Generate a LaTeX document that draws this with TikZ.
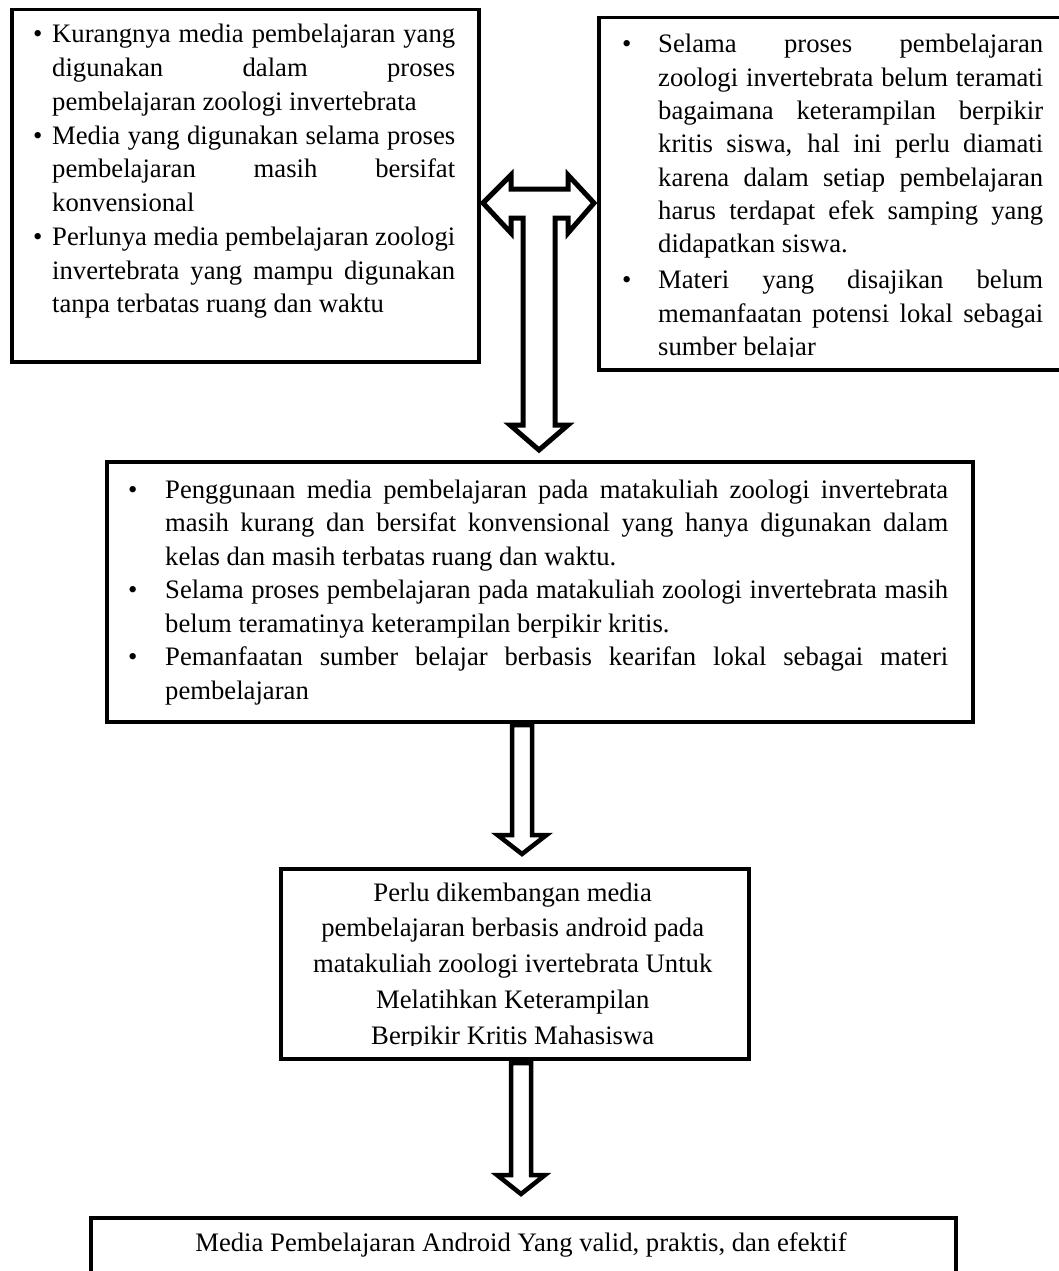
\documentclass[tikz,border=0pt]{standalone}
\usepackage{fontspec}
\setmainfont{Liberation Serif}
\newlength\bw
\newlength\tw
\newcommand\bulsym{\textbullet}
\newcommand\BJ[1]{\hbox{\hbox to\bw{\bulsym\hfil}\hbox to\tw{#1}}}
\newcommand\BL[1]{\hbox{\hbox to\bw{\bulsym\hfil}\hbox to\tw{#1\hfil}}}
\newcommand\NJ[1]{\hbox{\hbox to\bw{}\hbox to\tw{#1}}}
\newcommand\NL[1]{\hbox{\hbox to\bw{}\hbox to\tw{#1\hfil}}}
\newcommand\CL[1]{\hbox to 470pt{\hfil#1\hfil}}
\newcommand\blockdown[6]{\draw[barrow] (#1-#4,#2) -- (#1+#4,#2) -- (#1+#4,#3-#6) -- (#1+#5,#3-#6) -- (#1,#3) -- (#1-#5,#3-#6) -- (#1-#4,#3-#6) -- cycle;}
\hbadness=10000
\begin{document}
\begin{tikzpicture}[x=1pt,y=-1pt,
  box/.style={draw, line width=3.5pt, inner sep=0pt, anchor=north west},
  barrow/.style={draw, line width=4.5pt, line join=miter, miter limit=10},
  txt/.style={inner sep=0pt, anchor=base west, font=\fontsize{26.67}{33.5}\selectfont}]
\useasboundingbox (0,0) rectangle (1059,1271);
\begin{scope}
\clip (0,0) rectangle (1059,1271);
% boxes
\node[box, minimum width=467pt, minimum height=352pt] (b1) at (10,8) {};
\node[box, minimum width=480pt, minimum height=352pt] (b2) at (597,16) {};
\node[box, minimum width=866pt, minimum height=260pt] (b3) at (105,460) {};
\node[box, minimum width=468pt, minimum height=190pt] (b4) at (279,867) {};
\node[box, minimum width=865pt, minimum height=100pt] (b5) at (89,1216) {};
% left box text
\node[txt] (t1) at (33,43) {\setlength\bw{19pt}\setlength\tw{403pt}\vtop{\baselineskip=33.75pt
\BJ{Kurangnya media pembelajaran yang}
\NJ{digunakan dalam proses}
\NL{pembelajaran zoologi invertebrata}
\BJ{Media yang digunakan selama proses}
\NJ{pembelajaran masih bersifat}
\NL{konvensional}
\BJ{Perlunya media pembelajaran zoologi}
\NJ{invertebrata yang mampu digunakan}
\NL{tanpa terbatas ruang dan waktu}}};
% right box text
\begin{scope}
\clip (597,0) rectangle (1059,356);
\node[txt] (t2) at (622,53) {\setlength\bw{36pt}\setlength\tw{385pt}\vtop{\baselineskip=33.33pt
\BJ{Selama proses pembelajaran}
\NJ{zoologi invertebrata belum teramati}
\NJ{bagaimana keterampilan berpikir}
\NJ{kritis siswa, hal ini perlu diamati}
\NJ{karena dalam setiap pembelajaran}
\NJ{harus terdapat efek samping yang}
\NL{didapatkan siswa.}
\vskip2.67pt
\BJ{Materi yang disajikan belum}
\NJ{memanfaatan potensi lokal sebagai}
\NL{sumber belajar}}};
\end{scope}
% middle box text
\node[txt] (t3) at (128,498) {\setlength\bw{37pt}\setlength\tw{783pt}\vtop{\baselineskip=33.5pt
\BJ{Penggunaan media pembelajaran pada matakuliah zoologi invertebrata}
\NJ{masih kurang dan bersifat konvensional yang hanya digunakan dalam}
\NL{kelas dan masih terbatas ruang dan waktu.}
\BJ{Selama proses pembelajaran pada matakuliah zoologi invertebrata masih}
\NL{belum teramatinya keterampilan berpikir kritis.}
\BJ{Pemanfaatan sumber belajar berbasis kearifan lokal sebagai materi}
\NL{pembelajaran}}};
% box 3 text
\begin{scope}
\clip (279,860) rectangle (747,1045);
\node[txt] (t4) at (277.5,901) {\vtop{\baselineskip=35.75pt
\CL{Perlu dikembangan media}
\CL{pembelajaran berbasis android pada}
\CL{matakuliah zoologi ivertebrata Untuk}
\CL{Melatihkan Keterampilan}
\CL{Berpikir Kritis Mahasiswa}}};
\end{scope}
% box 4 text
\node[inner sep=0pt, anchor=base, font=\fontsize{26.67}{33.5}\selectfont] (t5) at (521,1251) {Media Pembelajaran Android Yang valid, praktis, dan efektif};
% T-shaped arrow
\draw[barrow, line width=5pt] (483,203) -- (511,175) -- (511,189) -- (568,189) -- (568,175) -- (594,203) -- (568,233) -- (568,218) -- (555,218) -- (555,425) -- (568,425) -- (539,450) -- (510,425) -- (523,425) -- (523,218) -- (511,218) -- (511,233) -- cycle;
% down arrows
\blockdown{522}{725}{854}{10}{24.5}{19}
\blockdown{521}{1063}{1194}{10}{24}{19}
\end{scope}
\end{tikzpicture}
\end{document}
